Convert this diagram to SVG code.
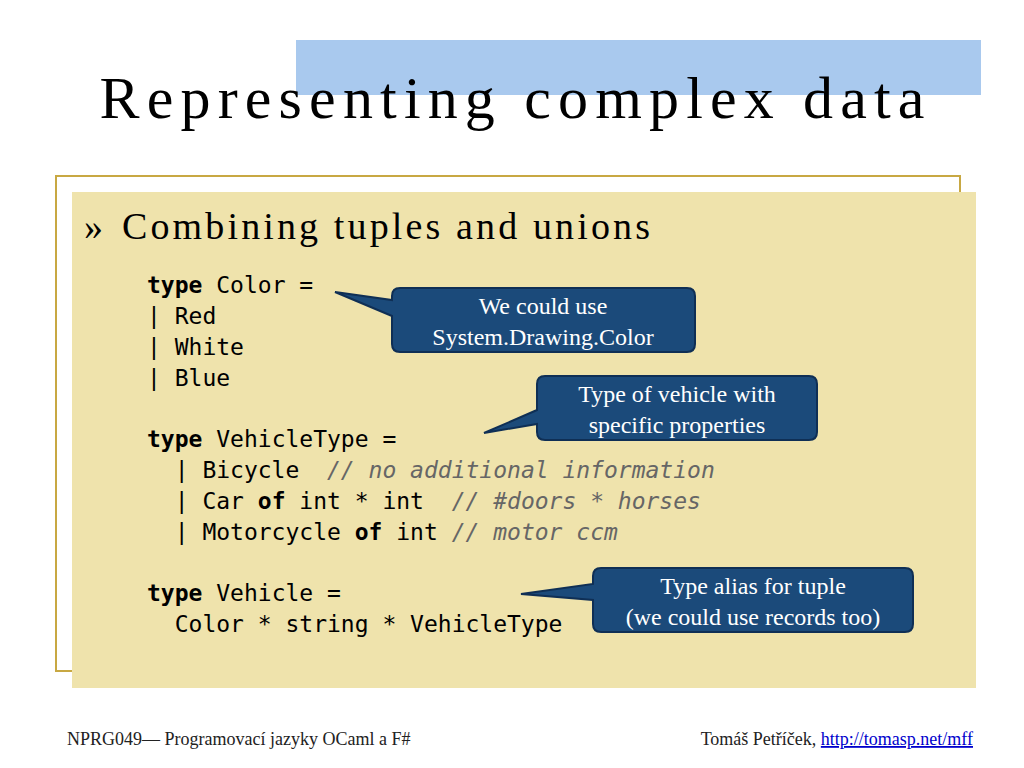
<svg xmlns="http://www.w3.org/2000/svg" width="1024" height="768" viewBox="0 0 1024 768">
<style>
.code{font-family:"DejaVu Sans Mono",monospace;font-size:23px;fill:#000}
.kw{font-weight:bold}
.cm{font-style:italic;fill:#666}
.co{fill:#1b4a7a;stroke:#0f2f55;stroke-width:2}
.ct{font-family:"Liberation Serif",serif;font-size:24px;fill:#fff;text-anchor:middle}
.ft{font-family:"Liberation Serif",serif;font-size:18px;fill:#222}
</style>
<rect width="1024" height="768" fill="#fff"/>
<rect x="296" y="40" width="685" height="55" fill="#a9c9ee"/>
<text x="512" y="118" text-anchor="middle" font-family="Liberation Serif,serif" font-size="60" textLength="825" fill="#000">Representing complex data</text>
<rect x="56" y="176" width="904" height="495" fill="#fff" stroke="#c8a843" stroke-width="2"/>
<rect x="72" y="192" width="904" height="496" fill="#efe3ac"/>
<text x="84" y="239" font-family="Liberation Serif,serif" font-size="38" fill="#000">»  <tspan x="122" textLength="528">Combining tuples and unions</tspan></text>
<g id="code">
<text class="code" x="147" y="293"><tspan class="kw">type</tspan> Color =</text>
<text class="code" x="147" y="324">  | Red</text>
<text class="code" x="147" y="355">  | White</text>
<text class="code" x="147" y="386">  | Blue</text>
<text class="code" x="147" y="447"><tspan class="kw">type</tspan> VehicleType =</text>
<text class="code" x="147" y="478" xml:space="preserve">  | Bicycle  <tspan class="cm">// no additional information</tspan></text>
<text class="code" x="147" y="509" xml:space="preserve">  | Car <tspan class="kw">of</tspan> int * int  <tspan class="cm">// #doors * horses</tspan></text>
<text class="code" x="147" y="540" xml:space="preserve">  | Motorcycle <tspan class="kw">of</tspan> int <tspan class="cm">// motor ccm</tspan></text>
<text class="code" x="147" y="601"><tspan class="kw">type</tspan> Vehicle =</text>
<text class="code" x="147" y="632" xml:space="preserve">  Color * string * VehicleType</text>
</g>
<g id="callout1">
<path class="co" d="M400,288 H687 Q695,288 695,296 V344 Q695,352 687,352 H400 Q392,352 392,344 V316 L335,292 L392,300 V296 Q392,288 400,288 Z"/>
<text class="ct" x="543" y="314">We could use</text>
<text class="ct" x="543" y="345">System.Drawing.Color</text>
</g>
<g id="callout2">
<path class="co" d="M545,376 H809 Q817,376 817,384 V432 Q817,440 809,440 H545 Q537,440 537,432 V424 L484,433 L537,410 V384 Q537,376 545,376 Z"/>
<text class="ct" x="677" y="402">Type of vehicle with</text>
<text class="ct" x="677" y="433">specific properties</text>
</g>
<g id="callout3">
<path class="co" d="M601,568 H905 Q913,568 913,576 V624 Q913,632 905,632 H601 Q593,632 593,624 V600 L521,594 L593,584 V576 Q593,568 601,568 Z"/>
<text class="ct" x="753" y="594">Type alias for tuple</text>
<text class="ct" x="753" y="625">(we could use records too)</text>
</g>
<text class="ft" x="67" y="745">NPRG049— Programovací jazyky OCaml a F#</text>
<text class="ft" x="973" y="745" text-anchor="end">Tomáš Petříček, <tspan fill="#0000cc" text-decoration="underline">http://tomasp.net/mff</tspan></text>
</svg>
